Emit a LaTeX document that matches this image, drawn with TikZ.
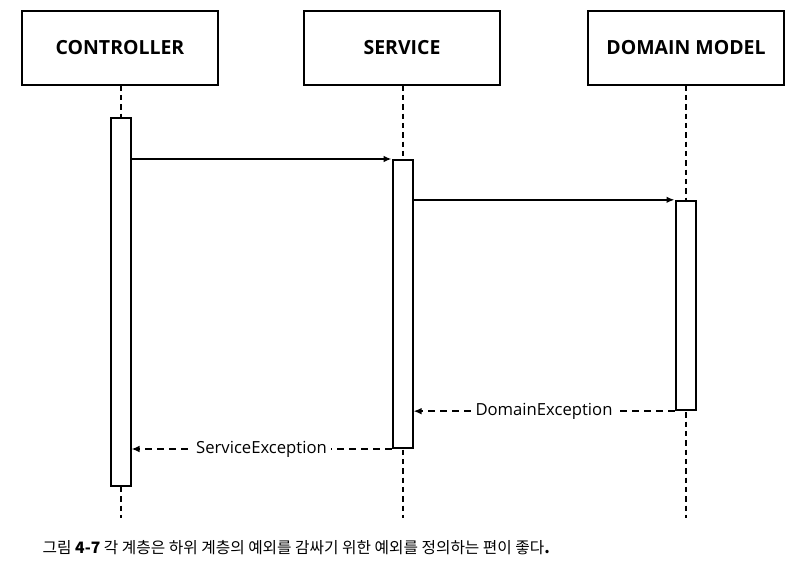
\documentclass[tikz,border=0pt]{standalone}
\usepackage{fontspec}
\setsansfont{Open Sans}
\newfontfamily\krfont{Noto Sans CJK KR}
\usetikzlibrary{arrows.meta,calc}

\tikzset{
	headbox/.style={draw, line width=1.5pt, minimum width=147pt, minimum height=55pt,
		font=\sffamily\bfseries\fontsize{14.6}{17}\selectfont},
	lifeline/.style={line width=1.5pt, dash pattern=on 4pt off 3pt},
	actbar/.style={draw, fill=white, line width=1.5pt, minimum width=15pt},
	callarrow/.style={line width=1.2pt, -{Latex[length=6pt,width=5pt]}},
	retarrow/.style={line width=1.2pt, dash pattern=on 5pt off 4pt, -{Latex[length=6pt,width=5pt]}},
	retlabel/.style={fill=white, inner sep=3pt, font=\sffamily\fontsize{12.5}{15}\selectfont}
}

\begin{document}
\begin{tikzpicture}[x=0.75pt, y=-0.75pt]
			%%%%% START %%%%%
			
			\useasboundingbox[fill=white] (0, 0) rectangle (797, 573);
			
			\node[headbox] (ctrl) at (120, 48) {CONTROLLER};
			\node[headbox] (svc) at (402, 48) {SERVICE};
			\node[headbox] (dom) at (686, 48) {DOMAIN MODEL};
			
			\coordinate (ctrlend) at (120.5, 518);
			\coordinate (svcend) at (403, 518);
			\coordinate (domend) at (686, 518);
			
			\draw[lifeline] (ctrl.south -| ctrlend) -- (ctrlend);
			\draw[lifeline] (svc.south -| svcend) -- (svcend);
			\draw[lifeline] (dom.south -| domend) -- (domend);
			
			\node[actbar, minimum height=276pt] (ctrlbar) at (120.5, 302) {};
			\node[actbar, minimum height=216pt] (svcbar) at (402.5, 304) {};
			\node[actbar, minimum height=157pt] (dombar) at (685.5, 305.5) {};
			
			\draw[callarrow] (ctrlbar.east |- svcbar.north) -- (svcbar.north west);
			\draw[callarrow] (svcbar.east |- dombar.north) -- (dombar.north west);
			
			\draw[retarrow] (dombar.south west) -- node[retlabel] (domex) {DomainException} (svcbar.east |- dombar.south);
			\draw[retarrow] (svcbar.south west) -- node[retlabel] (svcex) {ServiceException} (ctrlbar.east |- svcbar.south);
			
			\node[anchor=west, font=\krfont\fontsize{11.8}{14}\selectfont] (caption) at (38, 548)
				{그림 \textbf{4-7} 각 계층은 하위 계층의 예외를 감싸기 위한 예외를 정의하는 편이 좋다\textbf{.}};
			
			%%%%% END %%%%%
		\end{tikzpicture}
\end{document}
